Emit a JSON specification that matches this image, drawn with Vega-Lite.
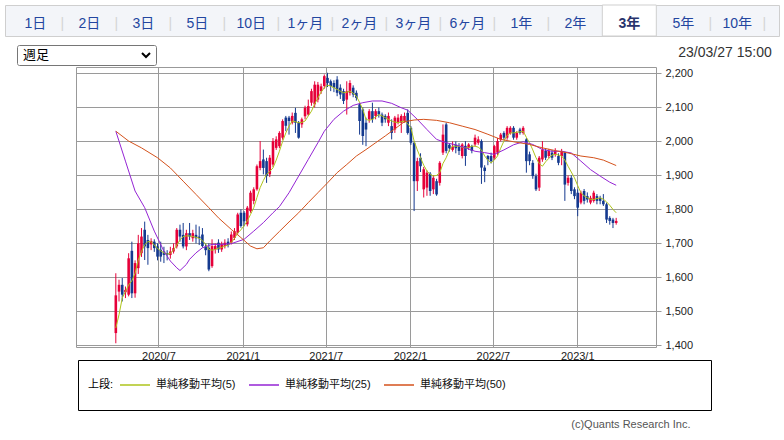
{
  "$schema": "https://vega.github.io/schema/vega-lite/v6.json",
  "padding": {"left": 4, "top": 4, "right": 0, "bottom": 0},
  "background": "white",
  "bounds": "full",
  "spacing": 7,
  "config": {
    "font": "Liberation Sans, Noto Sans CJK JP",
    "view": {"stroke": null},
    "axis": {"labelFont": "Liberation Sans", "labelFontSize": 11, "labelColor": "#222222", "gridColor": "#9a9a9a", "gridWidth": 1, "tickColor": "#9a9a9a", "domain": false}
  },
  "datasets": {
    "candles": [
{"d":"2020/03/30","o":1436,"h":1612,"l":1406,"c":1547,"m5":1451},
{"d":"2020/04/06","o":1558,"h":1593,"l":1529,"c":1578,"m5":1490},
{"d":"2020/04/13","o":1578,"h":1598,"l":1529,"c":1549,"m5":1539},
{"d":"2020/04/20","o":1556,"h":1573,"l":1539,"c":1563,"m5":1558},
{"d":"2020/04/27","o":1549,"h":1671,"l":1544,"c":1656,"m5":1578},
{"d":"2020/05/04","o":1678,"h":1705,"l":1539,"c":1553,"m5":1590},
{"d":"2020/05/11","o":1553,"h":1650,"l":1540,"c":1642,"m5":1612},
{"d":"2020/05/18","o":1627,"h":1725,"l":1610,"c":1700,"m5":1651},
{"d":"2020/05/25","o":1671,"h":1745,"l":1660,"c":1720,"m5":1676},
{"d":"2020/06/01","o":1740,"h":1764,"l":1651,"c":1691,"m5":1696},
{"d":"2020/06/08","o":1710,"h":1725,"l":1637,"c":1686,"m5":1705},
{"d":"2020/06/15","o":1697,"h":1715,"l":1680,"c":1707,"m5":1705},
{"d":"2020/06/22","o":1705,"h":1712,"l":1675,"c":1686,"m5":1695},
{"d":"2020/06/29","o":1691,"h":1700,"l":1650,"c":1661,"m5":1685},
{"d":"2020/07/06","o":1681,"h":1705,"l":1646,"c":1661,"m5":1678},
{"d":"2020/07/13","o":1676,"h":1690,"l":1642,"c":1666,"m5":1672},
{"d":"2020/07/20","o":1671,"h":1680,"l":1650,"c":1666,"m5":1668},
{"d":"2020/07/27","o":1666,"h":1690,"l":1655,"c":1676,"m5":1671},
{"d":"2020/08/03","o":1676,"h":1700,"l":1670,"c":1686,"m5":1680},
{"d":"2020/08/10","o":1691,"h":1745,"l":1685,"c":1740,"m5":1695},
{"d":"2020/08/17","o":1740,"h":1755,"l":1705,"c":1720,"m5":1710},
{"d":"2020/08/24","o":1725,"h":1760,"l":1685,"c":1691,"m5":1720},
{"d":"2020/08/31","o":1691,"h":1740,"l":1680,"c":1730,"m5":1722},
{"d":"2020/09/07","o":1730,"h":1760,"l":1710,"c":1720,"m5":1722},
{"d":"2020/09/14","o":1715,"h":1740,"l":1705,"c":1730,"m5":1720},
{"d":"2020/09/21","o":1725,"h":1755,"l":1700,"c":1715,"m5":1718},
{"d":"2020/09/28","o":1720,"h":1750,"l":1695,"c":1715,"m5":1715},
{"d":"2020/10/05","o":1726,"h":1745,"l":1688,"c":1692,"m5":1708},
{"d":"2020/10/12","o":1690,"h":1700,"l":1665,"c":1680,"m5":1698},
{"d":"2020/10/19","o":1687,"h":1700,"l":1618,"c":1623,"m5":1682},
{"d":"2020/10/26","o":1633,"h":1712,"l":1628,"c":1692,"m5":1680},
{"d":"2020/11/02","o":1682,"h":1700,"l":1670,"c":1692,"m5":1682},
{"d":"2020/11/09","o":1702,"h":1712,"l":1672,"c":1682,"m5":1686},
{"d":"2020/11/16","o":1682,"h":1705,"l":1675,"c":1697,"m5":1688},
{"d":"2020/11/23","o":1692,"h":1712,"l":1685,"c":1702,"m5":1692},
{"d":"2020/11/30","o":1705,"h":1715,"l":1688,"c":1695,"m5":1695},
{"d":"2020/12/07","o":1702,"h":1735,"l":1697,"c":1726,"m5":1702},
{"d":"2020/12/14","o":1716,"h":1745,"l":1710,"c":1736,"m5":1715},
{"d":"2020/12/21","o":1731,"h":1790,"l":1726,"c":1785,"m5":1730},
{"d":"2020/12/28","o":1790,"h":1800,"l":1746,"c":1751,"m5":1740},
{"d":"2021/01/04","o":1790,"h":1795,"l":1750,"c":1765,"m5":1752},
{"d":"2021/01/11","o":1756,"h":1810,"l":1750,"c":1805,"m5":1766},
{"d":"2021/01/18","o":1795,"h":1855,"l":1790,"c":1849,"m5":1785},
{"d":"2021/01/25","o":1825,"h":1865,"l":1815,"c":1859,"m5":1805},
{"d":"2021/02/01","o":1859,"h":1932,"l":1855,"c":1927,"m5":1835},
{"d":"2021/02/08","o":1922,"h":2001,"l":1915,"c":1942,"m5":1864},
{"d":"2021/02/15","o":1947,"h":1976,"l":1903,"c":1922,"m5":1885},
{"d":"2021/02/22","o":1942,"h":1952,"l":1878,"c":1898,"m5":1903},
{"d":"2021/03/01","o":1903,"h":1960,"l":1895,"c":1952,"m5":1912},
{"d":"2021/03/08","o":1932,"h":2010,"l":1925,"c":2001,"m5":1922},
{"d":"2021/03/15","o":1981,"h":2015,"l":1975,"c":2006,"m5":1945},
{"d":"2021/03/22","o":1986,"h":2030,"l":1980,"c":2025,"m5":1971},
{"d":"2021/03/29","o":2011,"h":2065,"l":2005,"c":2060,"m5":2000},
{"d":"2021/04/05","o":2070,"h":2075,"l":2030,"c":2046,"m5":2025},
{"d":"2021/04/12","o":2070,"h":2075,"l":2020,"c":2060,"m5":2045},
{"d":"2021/04/19","o":2055,"h":2085,"l":2050,"c":2075,"m5":2060},
{"d":"2021/04/26","o":2084,"h":2099,"l":2025,"c":2055,"m5":2058},
{"d":"2021/05/03","o":2055,"h":2060,"l":2008,"c":2011,"m5":2055},
{"d":"2021/05/10","o":2050,"h":2070,"l":2040,"c":2065,"m5":2056},
{"d":"2021/05/17","o":2074,"h":2105,"l":2065,"c":2099,"m5":2060},
{"d":"2021/05/24","o":2079,"h":2123,"l":2075,"c":2104,"m5":2075},
{"d":"2021/05/31","o":2114,"h":2155,"l":2105,"c":2148,"m5":2089},
{"d":"2021/06/07","o":2109,"h":2177,"l":2100,"c":2167,"m5":2110},
{"d":"2021/06/14","o":2123,"h":2175,"l":2115,"c":2167,"m5":2128},
{"d":"2021/06/21","o":2148,"h":2170,"l":2140,"c":2162,"m5":2145},
{"d":"2021/06/28","o":2163,"h":2197,"l":2155,"c":2192,"m5":2158},
{"d":"2021/07/05","o":2187,"h":2202,"l":2160,"c":2172,"m5":2165},
{"d":"2021/07/12","o":2177,"h":2182,"l":2148,"c":2163,"m5":2163},
{"d":"2021/07/19","o":2172,"h":2180,"l":2145,"c":2158,"m5":2158},
{"d":"2021/07/26","o":2182,"h":2192,"l":2133,"c":2143,"m5":2153},
{"d":"2021/08/02","o":2158,"h":2168,"l":2125,"c":2138,"m5":2148},
{"d":"2021/08/09","o":2148,"h":2155,"l":2110,"c":2119,"m5":2143},
{"d":"2021/08/16","o":2123,"h":2177,"l":2079,"c":2148,"m5":2145},
{"d":"2021/08/23","o":2143,"h":2180,"l":2135,"c":2172,"m5":2148},
{"d":"2021/08/30","o":2158,"h":2165,"l":2130,"c":2138,"m5":2142},
{"d":"2021/09/06","o":2143,"h":2150,"l":2120,"c":2128,"m5":2133},
{"d":"2021/09/13","o":2109,"h":2114,"l":2020,"c":2060,"m5":2115},
{"d":"2021/09/20","o":2094,"h":2100,"l":1990,"c":2016,"m5":2094},
{"d":"2021/09/27","o":2055,"h":2070,"l":1986,"c":2035,"m5":2065},
{"d":"2021/10/04","o":2065,"h":2095,"l":2055,"c":2089,"m5":2062},
{"d":"2021/10/11","o":2089,"h":2114,"l":2055,"c":2065,"m5":2065},
{"d":"2021/10/18","o":2075,"h":2095,"l":2065,"c":2089,"m5":2072},
{"d":"2021/10/25","o":2089,"h":2100,"l":2070,"c":2079,"m5":2079},
{"d":"2021/11/01","o":2079,"h":2085,"l":2045,"c":2055,"m5":2075},
{"d":"2021/11/08","o":2075,"h":2080,"l":2055,"c":2065,"m5":2070},
{"d":"2021/11/15","o":2055,"h":2085,"l":2045,"c":2075,"m5":2065},
{"d":"2021/11/22","o":2045,"h":2065,"l":2006,"c":2025,"m5":2060},
{"d":"2021/11/29","o":2035,"h":2075,"l":2025,"c":2070,"m5":2057},
{"d":"2021/12/06","o":2055,"h":2080,"l":2050,"c":2070,"m5":2055},
{"d":"2021/12/13","o":2055,"h":2080,"l":2025,"c":2075,"m5":2058},
{"d":"2021/12/20","o":2060,"h":2085,"l":2055,"c":2075,"m5":2060},
{"d":"2021/12/27","o":2084,"h":2094,"l":2020,"c":2025,"m5":2052},
{"d":"2022/01/03","o":2040,"h":2045,"l":1990,"c":1996,"m5":2040},
{"d":"2022/01/10","o":1996,"h":2000,"l":1795,"c":1883,"m5":2001},
{"d":"2022/01/17","o":1883,"h":1952,"l":1854,"c":1942,"m5":1975},
{"d":"2022/01/24","o":1952,"h":1965,"l":1910,"c":1927,"m5":1952},
{"d":"2022/01/31","o":1859,"h":1925,"l":1835,"c":1918,"m5":1930},
{"d":"2022/02/07","o":1864,"h":1915,"l":1840,"c":1908,"m5":1913},
{"d":"2022/02/14","o":1905,"h":1910,"l":1840,"c":1854,"m5":1903},
{"d":"2022/02/21","o":1859,"h":1900,"l":1845,"c":1893,"m5":1898},
{"d":"2022/02/28","o":1883,"h":1890,"l":1840,"c":1844,"m5":1900},
{"d":"2022/03/07","o":1878,"h":1942,"l":1870,"c":1937,"m5":1908},
{"d":"2022/03/14","o":1967,"h":2050,"l":1960,"c":2020,"m5":1935},
{"d":"2022/03/21","o":2050,"h":2055,"l":1965,"c":1972,"m5":1952},
{"d":"2022/03/28","o":1990,"h":1995,"l":1970,"c":1980,"m5":1975},
{"d":"2022/04/04","o":1975,"h":2000,"l":1970,"c":1985,"m5":1986},
{"d":"2022/04/11","o":1990,"h":2000,"l":1965,"c":1980,"m5":1986},
{"d":"2022/04/18","o":1986,"h":1995,"l":1960,"c":1972,"m5":1986},
{"d":"2022/04/25","o":1957,"h":1995,"l":1950,"c":1991,"m5":1983},
{"d":"2022/05/02","o":1987,"h":2001,"l":1928,"c":1957,"m5":1981},
{"d":"2022/05/09","o":1981,"h":1995,"l":1975,"c":1991,"m5":1982},
{"d":"2022/05/16","o":1986,"h":1990,"l":1965,"c":1972,"m5":1986},
{"d":"2022/05/23","o":1991,"h":2020,"l":1985,"c":2011,"m5":1986},
{"d":"2022/05/30","o":1996,"h":2015,"l":1990,"c":2006,"m5":1983},
{"d":"2022/06/06","o":2001,"h":2006,"l":1875,"c":1923,"m5":1975},
{"d":"2022/06/13","o":1923,"h":1930,"l":1880,"c":1913,"m5":1957},
{"d":"2022/06/20","o":1957,"h":1960,"l":1930,"c":1947,"m5":1945},
{"d":"2022/06/27","o":1957,"h":1967,"l":1935,"c":1942,"m5":1937},
{"d":"2022/07/04","o":1952,"h":1990,"l":1945,"c":1986,"m5":1945},
{"d":"2022/07/11","o":1967,"h":2010,"l":1960,"c":2001,"m5":1957},
{"d":"2022/07/18","o":2006,"h":2025,"l":2000,"c":2020,"m5":1980},
{"d":"2022/07/25","o":2025,"h":2030,"l":2005,"c":2011,"m5":2001},
{"d":"2022/08/01","o":2011,"h":2045,"l":2005,"c":2040,"m5":2018},
{"d":"2022/08/08","o":2025,"h":2045,"l":2020,"c":2040,"m5":2025},
{"d":"2022/08/15","o":2040,"h":2045,"l":2005,"c":2011,"m5":2025},
{"d":"2022/08/22","o":2011,"h":2030,"l":2005,"c":2025,"m5":2027},
{"d":"2022/08/29","o":2035,"h":2040,"l":2020,"c":2025,"m5":2028},
{"d":"2022/09/05","o":2025,"h":2045,"l":2020,"c":2040,"m5":2030},
{"d":"2022/09/12","o":2006,"h":2010,"l":1908,"c":1942,"m5":2012},
{"d":"2022/09/19","o":1962,"h":1970,"l":1930,"c":1942,"m5":1996},
{"d":"2022/09/26","o":1937,"h":1945,"l":1890,"c":1898,"m5":1975},
{"d":"2022/10/03","o":1898,"h":1905,"l":1854,"c":1859,"m5":1952},
{"d":"2022/10/10","o":1864,"h":1957,"l":1854,"c":1952,"m5":1935},
{"d":"2022/10/17","o":1947,"h":2001,"l":1940,"c":1976,"m5":1927},
{"d":"2022/10/24","o":1972,"h":1980,"l":1945,"c":1952,"m5":1940},
{"d":"2022/10/31","o":1957,"h":1978,"l":1950,"c":1972,"m5":1950},
{"d":"2022/11/07","o":1967,"h":1975,"l":1945,"c":1952,"m5":1960},
{"d":"2022/11/14","o":1962,"h":1980,"l":1955,"c":1972,"m5":1962},
{"d":"2022/11/21","o":1957,"h":1965,"l":1930,"c":1937,"m5":1960},
{"d":"2022/11/28","o":1957,"h":1978,"l":1930,"c":1972,"m5":1957},
{"d":"2022/12/05","o":1967,"h":1970,"l":1825,"c":1873,"m5":1945},
{"d":"2022/12/12","o":1878,"h":1900,"l":1870,"c":1893,"m5":1927},
{"d":"2022/12/19","o":1893,"h":1900,"l":1845,"c":1854,"m5":1910},
{"d":"2022/12/26","o":1859,"h":1865,"l":1830,"c":1839,"m5":1893},
{"d":"2023/01/02","o":1849,"h":1859,"l":1780,"c":1805,"m5":1870},
{"d":"2023/01/09","o":1820,"h":1855,"l":1815,"c":1849,"m5":1849},
{"d":"2023/01/16","o":1854,"h":1860,"l":1815,"c":1825,"m5":1840},
{"d":"2023/01/23","o":1839,"h":1850,"l":1820,"c":1829,"m5":1834},
{"d":"2023/01/30","o":1820,"h":1840,"l":1815,"c":1834,"m5":1830},
{"d":"2023/02/06","o":1825,"h":1855,"l":1820,"c":1849,"m5":1829},
{"d":"2023/02/13","o":1839,"h":1845,"l":1815,"c":1825,"m5":1832},
{"d":"2023/02/20","o":1834,"h":1840,"l":1815,"c":1825,"m5":1834},
{"d":"2023/02/27","o":1825,"h":1845,"l":1810,"c":1815,"m5":1830},
{"d":"2023/03/06","o":1815,"h":1820,"l":1760,"c":1770,"m5":1822},
{"d":"2023/03/13","o":1775,"h":1780,"l":1755,"c":1766,"m5":1812},
{"d":"2023/03/20","o":1770,"h":1775,"l":1745,"c":1760,"m5":1800},
{"d":"2023/03/27","o":1760,"h":1775,"l":1755,"c":1766,"m5":1790}
    ],
    "ma": [
{"d":"2020/03/30","s":"25","v":2030},{"d":"2020/04/20","s":"25","v":1942},{"d":"2020/05/11","s":"25","v":1854},
{"d":"2020/06/01","s":"25","v":1805},{"d":"2020/06/22","s":"25","v":1736},{"d":"2020/07/13","s":"25","v":1677},
{"d":"2020/07/27","s":"25","v":1648},{"d":"2020/08/10","s":"25","v":1628},{"d":"2020/08/17","s":"25","v":1620},
{"d":"2020/08/31","s":"25","v":1638},{"d":"2020/09/07","s":"25","v":1653},{"d":"2020/09/21","s":"25","v":1672},
{"d":"2020/10/05","s":"25","v":1687},{"d":"2020/10/26","s":"25","v":1697},{"d":"2020/11/16","s":"25","v":1697},
{"d":"2020/12/07","s":"25","v":1699},{"d":"2021/01/04","s":"25","v":1712},{"d":"2021/01/25","s":"25","v":1736},
{"d":"2021/02/15","s":"25","v":1761},{"d":"2021/03/08","s":"25","v":1790},{"d":"2021/03/22","s":"25","v":1808},
{"d":"2021/04/12","s":"25","v":1849},{"d":"2021/05/03","s":"25","v":1898},{"d":"2021/05/24","s":"25","v":1947},
{"d":"2021/06/14","s":"25","v":1996},{"d":"2021/06/28","s":"25","v":2030},{"d":"2021/07/19","s":"25","v":2065},
{"d":"2021/08/09","s":"25","v":2089},{"d":"2021/08/30","s":"25","v":2106},{"d":"2021/09/20","s":"25","v":2114},
{"d":"2021/10/11","s":"25","v":2119},{"d":"2021/11/01","s":"25","v":2119},{"d":"2021/11/22","s":"25","v":2112},
{"d":"2021/12/13","s":"25","v":2099},{"d":"2021/12/27","s":"25","v":2092},{"d":"2022/01/17","s":"25","v":2065},
{"d":"2022/02/07","s":"25","v":2035},{"d":"2022/02/28","s":"25","v":2006},{"d":"2022/03/21","s":"25","v":1996},
{"d":"2022/04/11","s":"25","v":1990},{"d":"2022/05/02","s":"25","v":1981},{"d":"2022/05/23","s":"25","v":1971},
{"d":"2022/06/13","s":"25","v":1967},{"d":"2022/07/04","s":"25","v":1962},{"d":"2022/07/25","s":"25","v":1975},
{"d":"2022/08/15","s":"25","v":1990},{"d":"2022/09/05","s":"25","v":1999},{"d":"2022/09/26","s":"25","v":1991},
{"d":"2022/10/17","s":"25","v":1976},{"d":"2022/11/07","s":"25","v":1971},{"d":"2022/11/28","s":"25","v":1971},
{"d":"2022/12/19","s":"25","v":1966},{"d":"2023/01/09","s":"25","v":1942},{"d":"2023/01/30","s":"25","v":1917},
{"d":"2023/02/20","s":"25","v":1898},{"d":"2023/03/13","s":"25","v":1880},{"d":"2023/03/27","s":"25","v":1871},
{"d":"2020/03/30","s":"50","v":2030},{"d":"2020/04/27","s":"50","v":2001},{"d":"2020/05/25","s":"50","v":1981},
{"d":"2020/06/29","s":"50","v":1952},{"d":"2020/07/27","s":"50","v":1922},{"d":"2020/08/24","s":"50","v":1883},
{"d":"2020/09/21","s":"50","v":1844},{"d":"2020/10/19","s":"50","v":1805},{"d":"2020/11/09","s":"50","v":1775},
{"d":"2020/12/07","s":"50","v":1741},{"d":"2020/12/28","s":"50","v":1717},{"d":"2021/01/18","s":"50","v":1692},
{"d":"2021/02/01","s":"50","v":1684},{"d":"2021/02/15","s":"50","v":1687},{"d":"2021/03/01","s":"50","v":1707},
{"d":"2021/03/22","s":"50","v":1735},{"d":"2021/04/12","s":"50","v":1763},{"d":"2021/05/03","s":"50","v":1790},
{"d":"2021/05/24","s":"50","v":1820},{"d":"2021/06/14","s":"50","v":1849},{"d":"2021/07/05","s":"50","v":1878},
{"d":"2021/07/26","s":"50","v":1908},{"d":"2021/08/16","s":"50","v":1932},{"d":"2021/09/06","s":"50","v":1957},
{"d":"2021/09/27","s":"50","v":1976},{"d":"2021/10/18","s":"50","v":1996},{"d":"2021/11/08","s":"50","v":2016},
{"d":"2021/11/29","s":"50","v":2037},{"d":"2021/12/20","s":"50","v":2058},{"d":"2022/01/10","s":"50","v":2063},
{"d":"2022/01/31","s":"50","v":2065},{"d":"2022/02/28","s":"50","v":2062},{"d":"2022/03/28","s":"50","v":2055},
{"d":"2022/04/25","s":"50","v":2045},{"d":"2022/05/23","s":"50","v":2035},{"d":"2022/06/20","s":"50","v":2021},
{"d":"2022/07/18","s":"50","v":2006},{"d":"2022/08/15","s":"50","v":1999},{"d":"2022/09/19","s":"50","v":1991},
{"d":"2022/10/17","s":"50","v":1981},{"d":"2022/11/14","s":"50","v":1973},{"d":"2022/12/12","s":"50","v":1966},
{"d":"2023/01/09","s":"50","v":1957},{"d":"2023/02/06","s":"50","v":1952},{"d":"2023/02/27","s":"50","v":1945},
{"d":"2023/03/27","s":"50","v":1929}
    ]
  },
  "vconcat": [
    {
      "width": 774,
      "height": 31,
      "view": {"fill": "#f3f5f9", "stroke": "#cfcfcf"},
      "data": {"values": [{"t":"1日"},{"t":"2日"},{"t":"3日"},{"t":"5日"},{"t":"10日"},{"t":"1ヶ月"},{"t":"2ヶ月"},{"t":"3ヶ月"},{"t":"6ヶ月"},{"t":"1年"},{"t":"2年"},{"t":"3年"},{"t":"5年"},{"t":"10年"}]},
      "encoding": {
        "x": {"field": "t", "type": "nominal", "sort": null, "axis": null,
              "scale": {"type": "band", "domain": ["1日","2日","3日","5日","10日","1ヶ月","2ヶ月","3ヶ月","6ヶ月","1年","2年","3年","5年","10年"], "range": [3.3, 759.3], "paddingInner": 0, "paddingOuter": 0}}
      },
      "layer": [
        {"transform": [{"filter": "datum.t == '3年'"}], "mark": {"type": "rect", "fill": "white", "stroke": "#cfcfcf"}},
        {"transform": [{"filter": "datum.t != '2年' && datum.t != '3年'"}],
         "mark": {"type": "text", "text": "|", "color": "#d4d4d4", "fontSize": 14, "dy": 3},
         "encoding": {"x": {"field": "t", "type": "nominal", "sort": null, "bandPosition": 1}}},
        {"transform": [{"filter": "datum.t != '3年'"}],
         "mark": {"type": "text", "fontSize": 14, "dy": 3, "color": "#2346a0"},
         "encoding": {"text": {"field": "t"}}},
        {"transform": [{"filter": "datum.t == '3年'"}],
         "mark": {"type": "text", "fontSize": 14, "dy": 3, "color": "#28336c", "fontWeight": "bold"},
         "encoding": {"text": {"field": "t"}}}
      ]
    },
    {
      "bounds": "full",
      "spacing": 0,
      "vconcat": [
        {
          "bounds": "full",
          "spacing": 0,
          "hconcat": [
            {"width": 11, "height": 20, "view": {"fill": "white"}, "data": {"values": []}, "mark": "point"},
            {
              "width": 139,
              "height": 20,
              "view": {"stroke": "#767676", "cornerRadius": 2, "fill": "white"},
              "layer": [
                {"data": {"values": [{"part": "label", "t": "週足"}]},
                 "mark": {"type": "text", "align": "left", "fontSize": 13, "font": "Noto Sans CJK JP", "color": "#000000", "dx": 6},
                 "encoding": {"x": {"field": "part", "type": "nominal", "axis": null, "scale": {"type": "point", "domain": ["label", "arrow"], "padding": 0}}, "text": {"field": "t"}}},
                {"data": {"values": [{"part": "arrow"}]},
                 "mark": {"type": "point", "shape": "M-1,-0.5L0,0.5L1,-0.5", "filled": false, "stroke": "#000000", "strokeWidth": 2, "size": 64, "opacity": 1, "xOffset": -10},
                 "encoding": {"x": {"field": "part", "type": "nominal"}}}
              ]
            },
            {"width": 521, "height": 20, "view": {"fill": "white"}, "data": {"values": []}, "mark": "point"},
            {
              "width": 94,
              "height": 20,
              "view": {"fill": "white"},
              "data": {"values": [{"t": "23/03/27 15:00"}]},
              "mark": {"type": "text", "fontSize": 14, "color": "#333333", "font": "Liberation Sans", "dy": -2},
              "encoding": {"text": {"field": "t"}}
            }
          ]
        },
        {
          "bounds": "full",
          "spacing": 0,
          "hconcat": [
            {"width": 70, "height": 280, "view": {"fill": "white"}, "data": {"values": []}, "mark": "point"},
            {
              "width": 580,
              "height": 280,
              "view": {"stroke": "#999999", "fill": "white"},
              "layer": [
                {
                  "data": {"name": "candles"},
                  "mark": {"type": "rule", "strokeWidth": 1},
                  "encoding": {
                    "x": {"field": "d", "type": "temporal",
                          "scale": {"domain": [{"year": 2020, "month": 1, "date": 14}, {"year": 2023, "month": 6, "date": 11}], "nice": false},
                          "axis": {"values": [{"year": 2020, "month": 7, "date": 1}, {"year": 2021, "month": 1, "date": 1}, {"year": 2021, "month": 7, "date": 1}, {"year": 2022, "month": 1, "date": 1}, {"year": 2022, "month": 7, "date": 1}, {"year": 2023, "month": 1, "date": 1}],
                                   "format": "%Y/%-m", "grid": true, "ticks": false, "labelPadding": 3, "labelOverlap": false, "labelFlush": false,
                                   "title": "(c)Quants Research Inc.", "titleX": 614, "titleY": 80, "titleAlign": "right", "titleBaseline": "alphabetic",
                                   "titleFontSize": 11, "titleFontWeight": "normal", "titleColor": "#555555", "titleFont": "Liberation Sans"}},
                    "y": {"field": "l", "type": "quantitative",
                          "scale": {"domain": [1395, 2219], "nice": false, "zero": false},
                          "axis": {"orient": "right", "values": [1400, 1500, 1600, 1700, 1800, 1900, 2000, 2100, 2200], "format": ",d", "grid": true, "tickSize": 5, "labelPadding": 4, "title": null}},
                    "y2": {"field": "h"},
                    "color": {"condition": {"test": "datum.c >= datum.o", "value": "#e60039"}, "value": "#14398f"}
                  }
                },
                {
                  "data": {"name": "candles"},
                  "mark": {"type": "bar", "width": 2.6},
                  "encoding": {
                    "x": {"field": "d", "type": "temporal"},
                    "y": {"field": "o", "type": "quantitative",
                          "axis": {"orient": "right", "values": [1400, 1500, 1600, 1700, 1800, 1900, 2000, 2100, 2200], "format": ",d", "grid": true, "tickSize": 5, "labelPadding": 4, "title": null}},
                    "y2": {"field": "c"},
                    "color": {"condition": {"test": "datum.c >= datum.o", "value": "#e60039"}, "value": "#14398f"}
                  }
                },
                {
                  "data": {"name": "candles"},
                  "mark": {"type": "line", "strokeWidth": 1},
                  "encoding": {
                    "x": {"field": "d", "type": "temporal"},
                    "y": {"field": "m5", "type": "quantitative",
                          "axis": {"orient": "right", "values": [1400, 1500, 1600, 1700, 1800, 1900, 2000, 2100, 2200], "format": ",d", "grid": true, "tickSize": 5, "labelPadding": 4, "title": null}},
                    "color": {"datum": "5", "type": "nominal",
                              "scale": {"domain": ["5", "25", "50"], "range": ["#aec41c", "#9424d4", "#d4521c"]},
                              "legend": {"orient": "none", "legendX": 73, "legendY": 355, "direction": "horizontal",
                                         "title": "上段:", "titleOrient": "left", "titlePadding": 5, "titleFontSize": 11, "titleFontWeight": "normal", "titleColor": "#000000",
                                         "titleFont": "Liberation Sans, Noto Sans CJK JP", "titleAnchor": "middle", "titleBaseline": "middle",
                                         "labelFont": "Liberation Sans, Noto Sans CJK JP", "labelFontSize": 11, "labelColor": "#111111", "labelLimit": 600,
                                         "labelOffset": 5, "columnPadding": 12, "symbolType": "stroke", "symbolSize": 900, "symbolStrokeWidth": 1.5,
                                         "clipHeight": 30, "padding": 10, "strokeColor": "#000000", "fillColor": "white",
                                         "labelExpr": "datum.label == '50' ? '単純移動平均(50)\u3000\u3000\u3000\u3000\u3000\u3000\u3000\u3000\u3000\u3000\u3000\u3000\u3000\u3000\u3000\u3000\u3000\u2800' : '単純移動平均(' + datum.label + ')'"}}
                  }
                },
                {
                  "data": {"name": "ma"},
                  "mark": {"type": "line", "strokeWidth": 1},
                  "encoding": {
                    "x": {"field": "d", "type": "temporal"},
                    "y": {"field": "v", "type": "quantitative",
                          "axis": {"orient": "right", "values": [1400, 1500, 1600, 1700, 1800, 1900, 2000, 2100, 2200], "format": ",d", "grid": true, "tickSize": 5, "labelPadding": 4, "title": null}},
                    "color": {"field": "s", "type": "nominal"}
                  }
                }
              ]
            }
          ]
        }
      ]
    }
  ]
}
